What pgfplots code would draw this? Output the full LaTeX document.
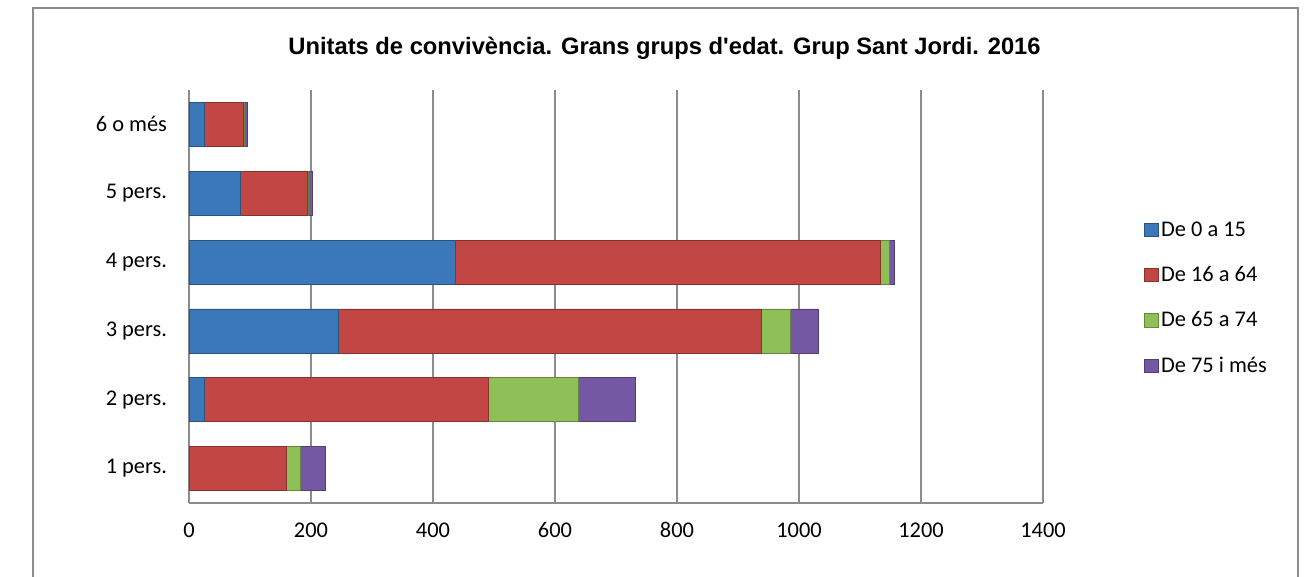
\documentclass[border=0pt]{standalone}
\usepackage{fontspec}
\setmainfont{Carlito}
\newfontfamily\titlefont{Liberation Sans}
\usepackage{pgfplots}
\pgfplotsset{compat=1.18}
\definecolor{cblue}{HTML}{3A78B9}
\definecolor{cred}{HTML}{C24744}
\definecolor{cgreen}{HTML}{8FBF57}
\definecolor{cpurple}{HTML}{7558A3}
\definecolor{frame}{HTML}{8C8C8C}
\pgfplotsset{
  bev/.style={fill=#1, draw=#1!70!black, line width=0.6pt},
}
\begin{document}
\begin{tikzpicture}
\path[use as bounding box] (0,0) rectangle (978pt,432.75pt);
\draw[frame, line width=1.3pt] (24.75pt,-5pt) -- (24.75pt,426.75pt) -- (973.5pt,426.75pt) -- (973.5pt,-5pt);
\node[font=\titlefont\bfseries\fontsize{17.8}{21}\selectfont] at (498.4pt,396.5pt) {Unitats de convivència. Grans grups d'edat. Grup Sant Jordi. 2016};
\begin{axis}[
  at={(141.75pt,55.5pt)}, anchor=south west,
  scale only axis, width=640.5pt, height=309.75pt,
  xbar stacked, bar width=33pt,
  xmin=0, xmax=1400, ymin=-0.5, ymax=5.5,
  xtick={0,200,...,1400},
  ytick={0,1,2,3,4,5},
  yticklabels={1 pers.,2 pers.,3 pers.,4 pers.,5 pers.,6 o més},
  xmajorgrids, grid style={frame, line width=1pt},
  axis x line*=bottom, axis y line*=left,
  axis line style={frame, line width=1pt, -},
  major tick length=0pt,
  /pgf/number format/assume math mode=true,
  /pgf/number format/1000 sep={},
  tick label style={font=\fontsize{16.8}{20}\selectfont},
  xticklabel style={yshift=-11pt, text height=11pt, text depth=2pt},
  yticklabel style={xshift=-13pt},
  legend style={at={(1.1136,0.496)}, anchor=west, draw=none, fill=none,
    font=\fontsize{16.8}{20}\selectfont, row sep=17.2pt,
    /tikz/every even column/.append style={column sep=2pt}},
  legend cell align=left,
  legend image code/.code={\fill[#1] (0pt,-5pt) rectangle (10pt,5pt);},
]
\addplot[bev=cblue] coordinates {(0,0) (26,1) (245,2) (437,3) (85,4) (25,5)};
\addplot[bev=cred] coordinates {(160,0) (464,1) (693,2) (696,3) (109,4) (64,5)};
\addplot[bev=cgreen] coordinates {(23,0) (148,1) (48,2) (15,3) (2,4) (2,5)};
\addplot[bev=cpurple] coordinates {(40,0) (93,1) (46,2) (8,3) (6,4) (5,5)};
\legend{De 0 a 15,De 16 a 64,De 65 a 74,De 75 i més}
\end{axis}
\end{tikzpicture}
\end{document}
